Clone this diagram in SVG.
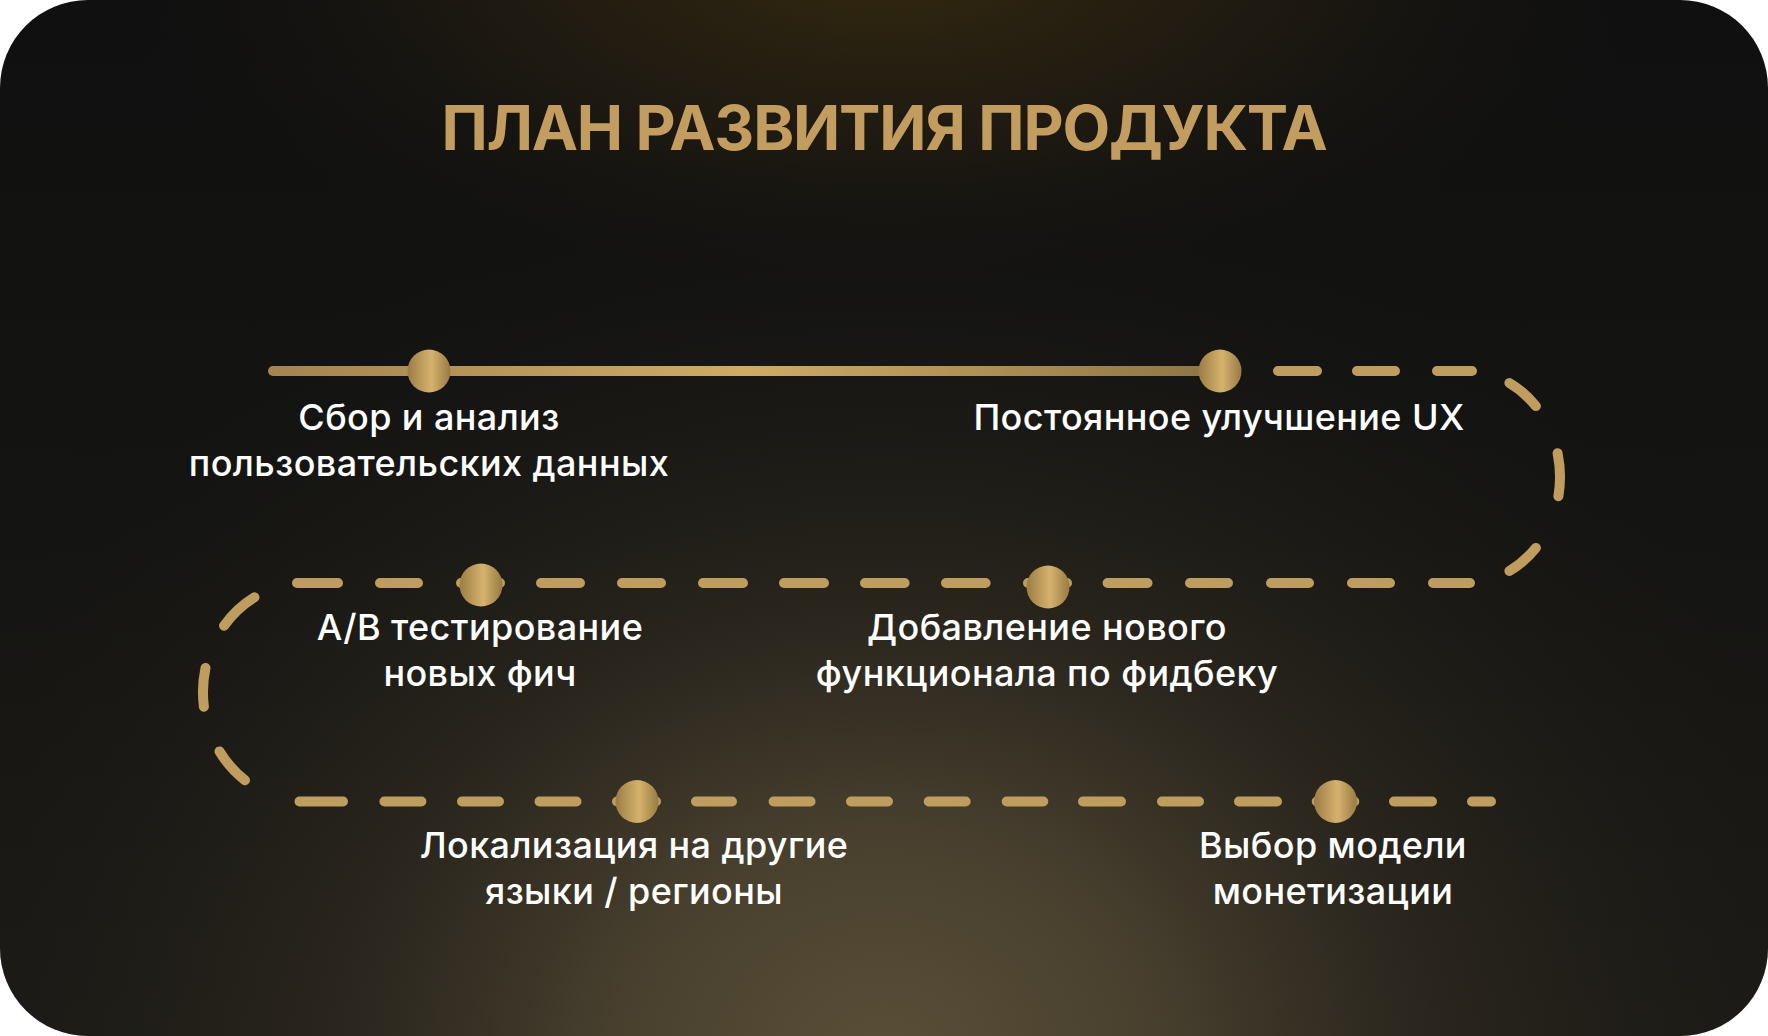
<svg xmlns="http://www.w3.org/2000/svg" width="1768" height="1036" viewBox="0 0 1768 1036">
<defs>
<linearGradient id="baseGrad" x1="0" y1="0" x2="0" y2="1">
<stop offset="0" stop-color="#101010"/>
<stop offset="0.5" stop-color="#141412"/>
<stop offset="1" stop-color="#1d1b17"/>
</linearGradient>
<radialGradient id="glowBottom" cx="884" cy="1060" r="1100" gradientUnits="userSpaceOnUse" gradientTransform="translate(884 1060) scale(1 0.85) translate(-884 -1060)">
<stop offset="0" stop-color="#5a4f38"/>
<stop offset="0.25" stop-color="#4a412f" stop-opacity="0.95"/>
<stop offset="0.5" stop-color="#2f2a20" stop-opacity="0.72"/>
<stop offset="0.75" stop-color="#1e1c17" stop-opacity="0.4"/>
<stop offset="1" stop-color="#111" stop-opacity="0"/>
</radialGradient>
<radialGradient id="glowTop" cx="884" cy="-40" r="800" gradientUnits="userSpaceOnUse" gradientTransform="translate(884 -40) scale(1 0.45) translate(-884 40)">
<stop offset="0" stop-color="#35290f"/>
<stop offset="0.5" stop-color="#261f12" stop-opacity="0.65"/>
<stop offset="1" stop-color="#111" stop-opacity="0"/>
</radialGradient>
<linearGradient id="lineGrad" x1="268" y1="0" x2="1220" y2="0" gradientUnits="userSpaceOnUse">
<stop offset="0" stop-color="#a4844f"/>
<stop offset="0.5" stop-color="#cfab66"/>
<stop offset="1" stop-color="#8e7444"/>
</linearGradient>
<linearGradient id="dotGrad" x1="0" y1="0" x2="1" y2="0">
<stop offset="0" stop-color="#9c7c46"/>
<stop offset="0.55" stop-color="#d5b26c"/>
<stop offset="1" stop-color="#9a7a45"/>
</linearGradient>
</defs>
<style>
.title{font-family:Inter,"Liberation Sans",sans-serif;font-weight:700;font-size:62px;letter-spacing:-1.2px;fill:#c29d5f;text-anchor:middle}
.lbl{font-family:Inter,"Liberation Sans",sans-serif;font-weight:500;font-size:36px;letter-spacing:0.4px;fill:#ffffff;text-anchor:middle}
.dash{fill:none;stroke:#be9d5e;stroke-width:10;stroke-linecap:round}
.solid{fill:none;stroke:url(#lineGrad);stroke-width:10;stroke-linecap:round}
.dot{fill:url(#dotGrad)}
</style>
<g id="background">
<rect x="0" y="0" width="1768" height="1036" fill="#ffffff"/>
<rect x="0" y="0" width="1768" height="1036" rx="88" ry="88" fill="url(#baseGrad)"/>
<rect x="0" y="0" width="1768" height="1036" rx="88" ry="88" fill="url(#glowBottom)"/>
<rect x="0" y="0" width="1768" height="1036" rx="88" ry="88" fill="url(#glowTop)"/>
</g>
<text id="title" class="title" x="884" y="150">ПЛАН РАЗВИТИЯ ПРОДУКТА</text>
<g id="connectors">
<path class="solid" d="M273 371H1220"/>
<path class="dash" d="M1278 371H1317M1357 371H1395M1437 371H1472"/>
<path class="dash" d="M1509.4 383A94 106 0 0 1 1535.9 406.1M1557.6 453.2A94 106 0 0 1 1558.4 496.3M1535.9 547.9A94 106 0 0 1 1509.4 571"/>
<path class="dash" d="M1470 583H1433M1390 583H1352M1309 583H1271M1228 583H1190M1147.5 583H1107.6M1067 583H1028M985.6 583H946M904.6 583H865M824 583H784M743 583H703M661 583H622M580 583H541M500 583H461M418 583H380M338 583H297"/>
<path class="dash" d="M254.5 597.3A102 109 0 0 0 224 625.8M205.5 668A102 109 0 0 0 203.9 706.8M219.5 751.4A102 109 0 0 0 245 780.2"/>
<path class="dash" d="M299.5 801.5H343M384.4 801.5H421.4M462 801.5H499M539.5 801.5H576.5M617 801.5H656M696 801.5H732M773.6 801.5H810.6M851 801.5H888M928.7 801.5H965.7M1006.7 801.5H1043.3M1083 801.5H1121M1162 801.5H1199M1239 801.5H1277M1316.7 801.5H1354.3M1394 801.5H1432M1472 801.5H1491"/>
</g>
<g id="node1">
<circle class="dot" cx="429" cy="371" r="21.5"/>
<text class="lbl" x="429" y="430">Сбор и анализ</text>
<text class="lbl" x="429" y="476">пользовательских данных</text>
</g>
<g id="node2">
<circle class="dot" cx="1220" cy="371" r="21.5"/>
<text class="lbl" x="1219" y="430">Постоянное улучшение UX</text>
</g>
<g id="node3">
<circle class="dot" cx="481" cy="585" r="21.5"/>
<text class="lbl" x="480" y="640">A/B тестирование</text>
<text class="lbl" x="480" y="686">новых фич</text>
</g>
<g id="node4">
<circle class="dot" cx="1048" cy="587" r="21.5"/>
<text class="lbl" x="1047" y="640">Добавление нового</text>
<text class="lbl" x="1047" y="686">функционала по фидбеку</text>
</g>
<g id="node5">
<circle class="dot" cx="637" cy="801.5" r="21.5"/>
<text class="lbl" x="634" y="858">Локализация на другие</text>
<text class="lbl" x="634" y="904">языки / регионы</text>
</g>
<g id="node6">
<circle class="dot" cx="1335.5" cy="801.5" r="21.5"/>
<text class="lbl" x="1333" y="858">Выбор модели</text>
<text class="lbl" x="1333" y="904">монетизации</text>
</g>
</svg>
